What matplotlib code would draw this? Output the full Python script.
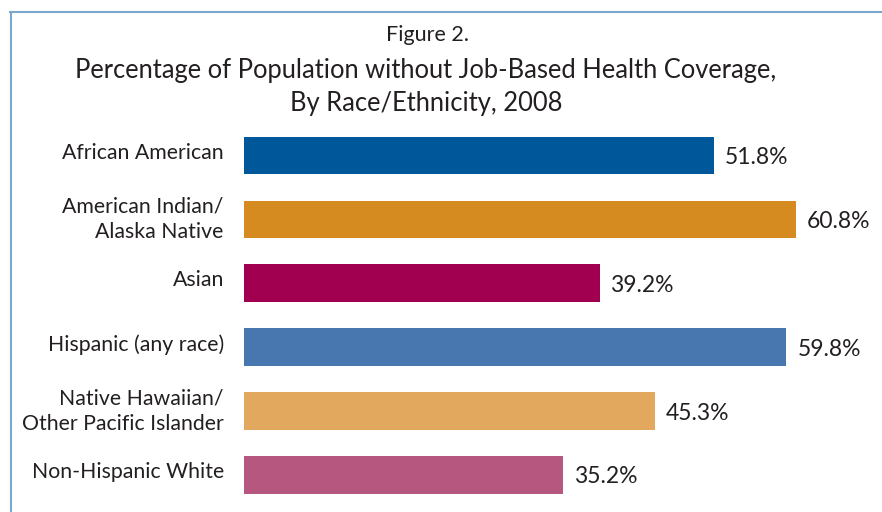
import matplotlib
matplotlib.use("Agg")
import matplotlib.pyplot as plt
import matplotlib.transforms as mtrans
from matplotlib.lines import Line2D

plt.rcParams['font.family'] = ['Lato', 'DejaVu Sans']

'''chart data'''
groups = ["African American", "American Indian/\nAlaska Native", "Asian",
          "Hispanic (any race)", "Native Hawaiian/\nOther Pacific Islander",
          "Non-Hispanic White"]
pct = [51.8, 60.8, 39.2, 59.8, 45.3, 35.2]
colors = ["#00579a", "#d68b20", "#a0004f", "#4777ae", "#e2a85e", "#b5577f"]
txt = "#231f20"

fig = plt.figure(figsize=(8.82, 5.12), dpi=100)
ax = fig.add_axes([244/882, 1 - 507/512, 635/882, 383.4/512])

ypos = list(range(len(groups)))
ax.barh(ypos, pct, height=0.59, color=colors)
ax.set_xlim(0, 70)
ax.set_ylim(5.5, -0.5)

for y, v in zip(ypos, pct):
    ax.text(v + 1.2, y + 0.03, f"{v}%", va='center', ha='left', fontsize=16.5, color=txt)

ax.set_yticks(ypos)
ax.set_yticklabels(groups, fontsize=15.3, color=txt, linespacing=1.35)
ax.tick_params(axis='y', length=0, pad=14.5)
ax.tick_params(axis='x', bottom=False, labelbottom=False)
for s in ax.spines.values():
    s.set_visible(False)
# category labels sit a little above the bar centres
offset = mtrans.ScaledTranslation(0, 5/100, fig.dpi_scale_trans)
for lab in ax.get_yticklabels():
    lab.set_transform(lab.get_transform() + offset)

fig.text(427/882, 1 - 35/512, "Figure 2.", ha='center', va='center', fontsize=15.5, color=txt)
fig.text(426/882, 1 - 87/512,
         "Percentage of Population without Job-Based Health Coverage,\nBy Race/Ethnicity, 2008",
         ha='center', va='center', fontsize=18.4, color=txt, linespacing=1.38)

'''frame lines'''
bc = "#7ba7cf"
fig.add_artist(Line2D([10.5/882, 10.5/882], [0, 1 - 12/512], color=bc, lw=1.5, transform=fig.transFigure))
fig.add_artist(Line2D([10/882, 1], [1 - 12/512, 1 - 12/512], color=bc, lw=1.5, transform=fig.transFigure))

plt.savefig("out.png", dpi=100)
plt.close('all')
